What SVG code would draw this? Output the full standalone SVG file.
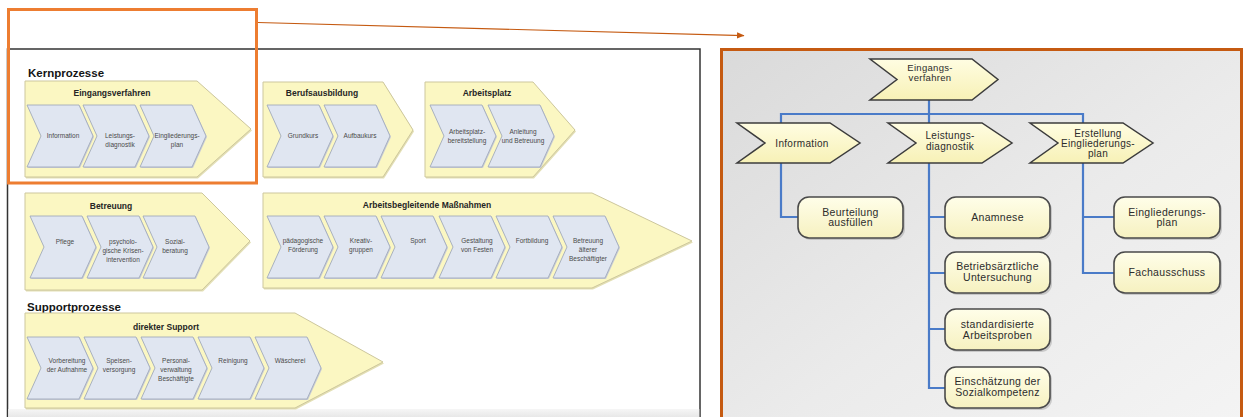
<svg xmlns="http://www.w3.org/2000/svg" width="1244" height="417" viewBox="0 0 1244 417">
  <defs>
    <style>
      text { font-family: "Liberation Sans", Arial, sans-serif; }
      .sec { font-size: 11.5px; font-weight: bold; fill: #151515; }
      .hd { font-size: 8.5px; font-weight: bold; fill: #252525; text-anchor: middle; }
      .lb { font-size: 6.5px; fill: #4a4a4a; text-anchor: middle; }
      .big { fill: #fbf7c2; stroke: #cdc79d; stroke-width: 1; }
      .bigsh { fill: #e3dfb4; }
      .inner { fill: #e0e6f1; stroke: #a2aabb; stroke-width: 0.9; }
      .innersh { fill: #c9cdd6; }
      .rchev { fill: url(#gChev); stroke: #3c3c3c; stroke-width: 1.5; }
      .rbox { fill: url(#gBox); stroke: #4a4a4a; stroke-width: 1.6; }
      .rsh { fill: #9c9c9c; opacity: 0.45; }
      .rt { font-size: 10px; fill: #2c2c2c; text-anchor: middle; letter-spacing: 0.3px; }
      .bt { font-size: 10.5px; fill: #2c2c2c; text-anchor: middle; letter-spacing: 0.3px; }
      .link { fill: none; stroke: #4a7bc8; stroke-width: 2.2; }
      .callout { fill: none; stroke: #c55a11; stroke-width: 1.2; }
    </style>
    <linearGradient id="gBg" x1="0" y1="0" x2="1" y2="1">
      <stop offset="0" stop-color="#dadada"/>
      <stop offset="0.55" stop-color="#ebebeb"/>
      <stop offset="1" stop-color="#f4f4f4"/>
    </linearGradient>
    <linearGradient id="gChev" x1="0" y1="0" x2="0" y2="1">
      <stop offset="0" stop-color="#fffde2"/>
      <stop offset="1" stop-color="#f7f1b6"/>
    </linearGradient>
    <linearGradient id="gBox" x1="0" y1="0" x2="0" y2="1">
      <stop offset="0" stop-color="#fffee9"/>
      <stop offset="1" stop-color="#f6f1c0"/>
    </linearGradient>
    <linearGradient id="gFoot" x1="0" y1="0" x2="0" y2="1">
      <stop offset="0" stop-color="#f6f6f6"/>
      <stop offset="1" stop-color="#e6e6e6"/>
    </linearGradient>
    <!-- small process step: notched left side, pointed right side -->
    <path id="step" d="M0,0H52L66,31L52,62H0L14,31Z"/>
    <marker id="arr" markerWidth="8" markerHeight="8" refX="7" refY="4" orient="auto" markerUnits="userSpaceOnUse">
      <path d="M0,0.8L7.5,4L0,7.2Z" fill="#c55a11"/>
    </marker>
  </defs>

  <rect width="1244" height="417" fill="#ffffff"/>

  <!-- process map slide -->
  <g id="process-map">
    <rect x="7.5" y="49" width="692.5" height="380" fill="#ffffff" stroke="#333" stroke-width="1.5"/>
    <rect x="8.3" y="409" width="691" height="9" fill="url(#gFoot)"/>
    <text class="sec" x="28" y="77">Kernprozesse</text>
    <text class="sec" x="27" y="311">Supportprozesse</text>
  </g>

  <g id="eingangsverfahren">
    <polygon class="bigsh" points="26,82.5 198,82.5 252,130.5 198,178.5 26,178.5"/>
    <polygon class="big" points="25,81 197,81 251,129 197,177 25,177"/>
    <text class="hd" x="112" y="96">Eingangsverfahren</text>
    <use href="#step" class="innersh" x="28" y="106"/>
    <use href="#step" class="inner" x="27" y="105"/>
    <use href="#step" class="innersh" x="84" y="106"/>
    <use href="#step" class="inner" x="83" y="105"/>
    <use href="#step" class="innersh" x="141" y="106"/>
    <use href="#step" class="inner" x="140" y="105"/>
    <text class="lb" x="63" y="138">Information</text>
    <text class="lb" x="120" y="138">Leistungs-<tspan x="120" dy="9">diagnostik</tspan></text>
    <text class="lb" x="177" y="138">Eingliederungs-<tspan x="177" dy="9">plan</tspan></text>
  </g>

  <g id="berufsausbildung">
    <polygon class="bigsh" points="264,83.5 384,83.5 414,131.5 384,178.5 264,178.5"/>
    <polygon class="big" points="263,82 383,82 413,130 383,177 263,177"/>
    <text class="hd" x="322" y="96">Berufsausbildung</text>
    <use href="#step" class="innersh" x="268" y="106"/>
    <use href="#step" class="inner" x="267" y="105"/>
    <use href="#step" class="innersh" x="325" y="106"/>
    <use href="#step" class="inner" x="324" y="105"/>
    <text class="lb" x="303" y="138">Grundkurs</text>
    <text class="lb" x="360" y="138">Aufbaukurs</text>
  </g>

  <g id="arbeitsplatz">
    <polygon class="bigsh" points="426,83.5 534,83.5 576,131.5 534,178.5 426,178.5"/>
    <polygon class="big" points="425,82 533,82 575,130 533,177 425,177"/>
    <text class="hd" x="487" y="96">Arbeitsplatz</text>
    <use href="#step" class="innersh" x="431" y="106"/>
    <use href="#step" class="inner" x="430" y="105"/>
    <use href="#step" class="innersh" x="489" y="106"/>
    <use href="#step" class="inner" x="488" y="105"/>
    <text class="lb" x="467" y="134">Arbeitsplatz-<tspan x="467" dy="9">bereitstellung</tspan></text>
    <text class="lb" x="523" y="134">Anleitung<tspan x="523" dy="9">und Betreuung</tspan></text>
  </g>

  <g id="betreuung">
    <polygon class="bigsh" points="26,194.5 203,194.5 251,242.5 203,291.5 26,291.5"/>
    <polygon class="big" points="25,193 202,193 250,241 202,290 25,290"/>
    <text class="hd" x="111" y="209">Betreuung</text>
    <use href="#step" class="innersh" x="31" y="217"/>
    <use href="#step" class="inner" x="30" y="216"/>
    <use href="#step" class="innersh" x="88" y="217"/>
    <use href="#step" class="inner" x="87" y="216"/>
    <use href="#step" class="innersh" x="144" y="217"/>
    <use href="#step" class="inner" x="143" y="216"/>
    <text class="lb" x="65" y="244">Pflege</text>
    <text class="lb" x="123" y="244">psycholo-<tspan x="123" dy="9">gische Krisen-</tspan><tspan x="123" dy="9">intervention</tspan></text>
    <text class="lb" x="175" y="244">Sozial-<tspan x="175" dy="9">beratung</tspan></text>
  </g>

  <g id="arbeitsbegleitende-massnahmen">
    <polygon class="bigsh" points="264,194.5 593,194.5 693,242.5 593,289.5 264,289.5"/>
    <polygon class="big" points="263,193 592,193 692,241 592,288 263,288"/>
    <text class="hd" x="427" y="208">Arbeitsbegleitende Maßnahmen</text>
    <use href="#step" class="innersh" x="268" y="217"/>
    <use href="#step" class="inner" x="267" y="216"/>
    <use href="#step" class="innersh" x="325" y="217"/>
    <use href="#step" class="inner" x="324" y="216"/>
    <use href="#step" class="innersh" x="382" y="217"/>
    <use href="#step" class="inner" x="381" y="216"/>
    <use href="#step" class="innersh" x="440" y="217"/>
    <use href="#step" class="inner" x="439" y="216"/>
    <use href="#step" class="innersh" x="497" y="217"/>
    <use href="#step" class="inner" x="496" y="216"/>
    <use href="#step" class="innersh" x="554" y="217"/>
    <use href="#step" class="inner" x="553" y="216"/>
    <text class="lb" x="303" y="243">pädagogische<tspan x="303" dy="9">Förderung</tspan></text>
    <text class="lb" x="361" y="243">Kreativ-<tspan x="361" dy="9">gruppen</tspan></text>
    <text class="lb" x="418" y="243">Sport</text>
    <text class="lb" x="477" y="243">Gestaltung<tspan x="477" dy="9">von Festen</tspan></text>
    <text class="lb" x="532" y="243">Fortbildung</text>
    <text class="lb" x="588" y="243">Betreuung<tspan x="588" dy="9">älterer</tspan><tspan x="588" dy="9">Beschäftigter</tspan></text>
  </g>

  <g id="direkter-support">
    <polygon class="bigsh" points="26,314.5 296,314.5 384,363.5 296,409.5 26,409.5"/>
    <polygon class="big" points="25,313 295,313 383,362 295,408 25,408"/>
    <text class="hd" x="166" y="330">direkter Support</text>
    <use href="#step" class="innersh" x="28" y="338"/>
    <use href="#step" class="inner" x="27" y="337"/>
    <use href="#step" class="innersh" x="85" y="338"/>
    <use href="#step" class="inner" x="84" y="337"/>
    <use href="#step" class="innersh" x="142" y="338"/>
    <use href="#step" class="inner" x="141" y="337"/>
    <use href="#step" class="innersh" x="199" y="338"/>
    <use href="#step" class="inner" x="198" y="337"/>
    <use href="#step" class="innersh" x="256" y="338"/>
    <use href="#step" class="inner" x="255" y="337"/>
    <text class="lb" x="67" y="363">Vorbereitung<tspan x="67" dy="9">der Aufnahme</tspan></text>
    <text class="lb" x="119" y="363">Speisen-<tspan x="119" dy="9">versorgung</tspan></text>
    <text class="lb" x="176" y="363">Personal-<tspan x="176" dy="9">verwaltung</tspan><tspan x="176" dy="9">Beschäftigte</tspan></text>
    <text class="lb" x="233" y="363">Reinigung</text>
    <text class="lb" x="290" y="363">Wäscherei</text>
  </g>

  <!-- highlight frame around the intake step -->
  <g id="highlight">
    <rect x="8.5" y="9.5" width="248" height="173.5" fill="none" stroke="#ed7d31" stroke-width="3"/>
  </g>

  <!-- detail panel -->
  <g id="detail-panel">
    <rect x="721.5" y="49.5" width="520" height="380" fill="url(#gBg)" stroke="#c55a11" stroke-width="3"/>
  </g>

  <g id="connectors">
    <path class="callout" d="M258,22.5L744,35.6" marker-end="url(#arr)"/>
    <path class="link" d="M929,100V114M781,114H1083M781,113V123M929,114V123M1083,113V123"/>
    <path class="link" d="M781,163V217H798"/>
    <path class="link" d="M929,163V388H945M929,217H945M929,273H945M929,329H945"/>
    <path class="link" d="M1083,163V273H1114M1083,217H1114"/>
  </g>

  <g id="d-eingangsverfahren">
    <polygon class="rchev" points="870,59 972,59 998,79.5 972,100 870,100 897,79.5"/>
    <text class="rt" x="930" y="71" style="font-size:9.5px">Eingangs-<tspan x="930" dy="9.5">verfahren</tspan></text>
  </g>
  <g id="d-information">
    <polygon class="rchev" points="737,123 830,123 860,143 830,163 737,163 765,143"/>
    <text class="rt" x="802" y="147">Information</text>
  </g>
  <g id="d-leistungsdiagnostik">
    <polygon class="rchev" points="888,123 982,123 1012,143 982,163 888,163 916,143"/>
    <text class="rt" x="950" y="139">Leistungs-<tspan x="950" dy="11">diagnostik</tspan></text>
  </g>
  <g id="d-erstellung">
    <polygon class="rchev" points="1030,123 1123,123 1153,143 1123,163 1030,163 1058,143"/>
    <text class="rt" x="1098" y="137">Erstellung<tspan x="1098" dy="10">Eingliederungs-</tspan><tspan x="1098" dy="10">plan</tspan></text>
  </g>

  <g id="d-beurteilung">
    <rect class="rsh" x="800" y="199" width="105" height="41" rx="11"/>
    <rect class="rbox" x="798" y="197" width="105" height="41" rx="11"/>
    <text class="bt" x="850.5" y="215.5">Beurteilung<tspan x="850.5" dy="10.5">ausfüllen</tspan></text>
  </g>
  <g id="d-anamnese">
    <rect class="rsh" x="947" y="199" width="105" height="41" rx="11"/>
    <rect class="rbox" x="945" y="197" width="105" height="41" rx="11"/>
    <text class="bt" x="997.5" y="221">Anamnese</text>
  </g>
  <g id="d-betriebsarzt">
    <rect class="rsh" x="947" y="254" width="105" height="41" rx="11"/>
    <rect class="rbox" x="945" y="252" width="105" height="41" rx="11"/>
    <text class="bt" x="997.5" y="270">Betriebsärztliche<tspan x="997.5" dy="11">Untersuchung</tspan></text>
  </g>
  <g id="d-arbeitsproben">
    <rect class="rsh" x="947" y="311" width="105" height="41" rx="11"/>
    <rect class="rbox" x="945" y="309" width="105" height="41" rx="11"/>
    <text class="bt" x="997.5" y="327.5">standardisierte<tspan x="997.5" dy="11">Arbeitsproben</tspan></text>
  </g>
  <g id="d-sozialkompetenz">
    <rect class="rsh" x="947" y="369" width="105" height="41" rx="11"/>
    <rect class="rbox" x="945" y="367" width="105" height="41" rx="11"/>
    <text class="bt" x="997.5" y="385">Einschätzung der<tspan x="997.5" dy="11">Sozialkompetenz</tspan></text>
  </g>
  <g id="d-eingliederungsplan">
    <rect class="rsh" x="1116" y="199" width="106" height="41" rx="11"/>
    <rect class="rbox" x="1114" y="197" width="106" height="41" rx="11"/>
    <text class="bt" x="1167" y="215.5">Eingliederungs-<tspan x="1167" dy="10.5">plan</tspan></text>
  </g>
  <g id="d-fachausschuss">
    <rect class="rsh" x="1116" y="254" width="106" height="41" rx="11"/>
    <rect class="rbox" x="1114" y="252" width="106" height="41" rx="11"/>
    <text class="bt" x="1167" y="276">Fachausschuss</text>
  </g>
</svg>
